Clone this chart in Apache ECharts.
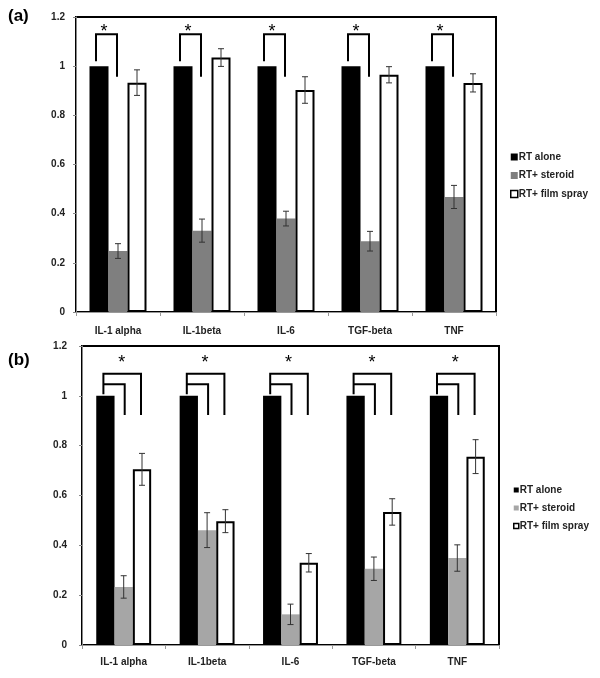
<!DOCTYPE html>
<html><head><meta charset="utf-8">
<script src="https://cdn.jsdelivr.net/npm/echarts@6/dist/echarts.min.js"></script>
<style>html,body{margin:0;padding:0;background:#fff}#c{width:600px;height:678px}</style>
</head><body><div id="c"></div>
<script>
const categories = ['IL-1 alpha', 'IL-1beta', 'IL-6', 'TGF-beta', 'TNF'];
const seriesNames = ['RT alone', 'RT+ steroid', 'RT+ film spray'];
// panel (a)
const aAlone = [1, 1, 1, 1, 1];
const aSteroid = [0.248, 0.331, 0.38, 0.288, 0.468];
const aSteroidErr = [0.03, 0.047, 0.03, 0.04, 0.047];
const aFilm = [0.933, 1.035, 0.903, 0.965, 0.932];
const aFilmErr = [0.052, 0.036, 0.054, 0.033, 0.037];
// panel (b)
const bAlone = [1, 1, 1, 1, 1];
const bSteroid = [0.233, 0.461, 0.123, 0.306, 0.349];
const bSteroidErr = [0.045, 0.07, 0.041, 0.047, 0.053];
const bFilm = [0.705, 0.497, 0.33, 0.534, 0.756];
const bFilmErr = [0.064, 0.046, 0.037, 0.053, 0.068];
const sigMarks = ['*', '*', '*', '*', '*'];

const FONT = 'Liberation Sans';
const BW_A = 19, BW_B = 18.3;
const greyA = '#7f7f7f', greyB = '#a6a6a6';

function errData(vals, errs, s) {
  return vals.map((v, i) => [i, v, errs[i], s]);
}
function errRender(bw) {
  return function (params, api) {
    const idx = api.value(0), v = api.value(1), e = api.value(2), s = api.value(3);
    const x = api.coord([idx, v])[0] + (s - 1) * bw;
    const t = api.coord([idx, v + e])[1], b = api.coord([idx, v - e])[1];
    const st = { stroke: '#333', lineWidth: 1 };
    return { type: 'group', children: [
      { type: 'line', shape: { x1: x, y1: t, x2: x, y2: b }, style: st },
      { type: 'line', shape: { x1: x - 3, y1: t, x2: x + 3, y2: t }, style: st },
      { type: 'line', shape: { x1: x - 3, y1: b, x2: x + 3, y2: b }, style: st }
    ] };
  };
}
function bracketA(params, api) {
  const idx = api.value(0);
  const c = api.coord([idx, 0])[0];
  const xl = c - BW_A - 3, xr = c - 1;
  const y = v => api.coord([idx, v])[1];
  return { type: 'group', children: [
    { type: 'polyline', shape: { points: [[xl, y(1.02)], [xl, y(1.13)], [xr, y(1.13)], [xr, y(0.957)]] },
      style: { stroke: '#000', lineWidth: 2, fill: null } },
    { type: 'text', style: { text: sigMarks[idx], x: (xl + xr) / 2 - 2.5, y: y(1.138), font: '18px ' + FONT, fill: '#000', textAlign: 'center', textVerticalAlign: 'middle' } }
  ] };
}
function bracketB(params, api) {
  const idx = api.value(0);
  const c = api.coord([idx, 0])[0];
  const xl = c - BW_B - 2, xi = c + 1, xo = c + BW_B - 1;
  const y = v => api.coord([idx, v])[1];
  const st = { stroke: '#000', lineWidth: 2, fill: null };
  return { type: 'group', children: [
    { type: 'polyline', shape: { points: [[xl, y(1.006)], [xl, y(1.089)], [xo, y(1.089)], [xo, y(0.923)]] }, style: st },
    { type: 'polyline', shape: { points: [[xl, y(1.046)], [xi, y(1.046)], [xi, y(0.923)]] }, style: st },
    { type: 'text', style: { text: sigMarks[idx], x: c - 2, y: y(1.13), font: '18px ' + FONT, fill: '#000', textAlign: 'center', textVerticalAlign: 'middle' } }
  ] };
}

const axisLabel = { fontFamily: FONT, fontWeight: 'bold', fontSize: 10, color: '#222' };
function xAxis(gi, margin) {
  return { type: 'category', gridIndex: gi, data: categories,
    axisLine: { lineStyle: { color: '#999', width: 1 } },
    axisTick: { show: true, length: 4, lineStyle: { color: '#999' } },
    axisLabel: Object.assign({ margin: margin }, axisLabel) };
}
function yAxis(gi, margin) {
  return { type: 'value', gridIndex: gi, min: 0, max: 1.2, interval: 0.2,
    splitLine: { show: false },
    axisLine: { show: true, lineStyle: { color: '#888', width: 1 } },
    axisTick: { show: true, length: 3, lineStyle: { color: '#888' } },
    axisLabel: Object.assign({ margin: margin }, axisLabel) };
}
function bars(gi, bw, grey, alone, ster, film) {
  return [
    { name: seriesNames[0], type: 'bar', xAxisIndex: gi, yAxisIndex: gi, data: alone, barWidth: bw, barGap: '0%', itemStyle: { color: '#000' } },
    { name: seriesNames[1], type: 'bar', xAxisIndex: gi, yAxisIndex: gi, data: ster, barWidth: bw, barGap: '0%', itemStyle: { color: grey } },
    { name: seriesNames[2], type: 'bar', xAxisIndex: gi, yAxisIndex: gi, data: film, barWidth: bw, barGap: '0%', itemStyle: { color: '#fff', borderColor: '#000', borderWidth: 2 } }
  ];
}
function legend(left, top, grey, gap, iw) {
  return { orient: 'vertical', left: left, top: top, itemWidth: iw, itemHeight: iw, itemGap: gap,
    textStyle: { fontFamily: FONT, fontWeight: 'bold', fontSize: 10, color: '#222', padding: [0, 0, 0, -4], lineHeight: 12 },
    selectedMode: false,
    data: [
      { name: seriesNames[0], icon: 'rect', itemStyle: { color: '#000', borderWidth: 0 } },
      { name: seriesNames[1], icon: 'rect', itemStyle: { color: grey, borderWidth: 0 } },
      { name: seriesNames[2], icon: 'rect', itemStyle: { color: '#fff', borderColor: '#000', borderWidth: 1.5 } }
    ] };
}

const chart = echarts.init(document.getElementById('c'), null, { renderer: 'canvas' });
chart.setOption({
  animation: false,
  backgroundColor: '#fff',
  title: [
    { text: '(a)', left: 3, top: 3, textStyle: { fontFamily: FONT, fontWeight: 'bold', fontSize: 17, color: '#000' } },
    { text: '(b)', left: 3, top: 347, textStyle: { fontFamily: FONT, fontWeight: 'bold', fontSize: 17, color: '#000' } }
  ],
  legend: [legend(505, 146, greyA, 6.5, 7), legend(508, 479, greyB, 6, 5)],
  grid: [
    { left: 76, top: 17, width: 420, height: 295, show: true, borderColor: '#000', borderWidth: 2, backgroundColor: 'transparent' },
    { left: 82, top: 346, width: 417, height: 299, show: true, borderColor: '#000', borderWidth: 2, backgroundColor: 'transparent' }
  ],
  xAxis: [xAxis(0, 14), xAxis(1, 12)],
  yAxis: [yAxis(0, 11), yAxis(1, 15)],
  series: [].concat(
    bars(0, BW_A, greyA, aAlone, aSteroid, aFilm),
    bars(1, BW_B, greyB, bAlone, bSteroid, bFilm),
    [
      { type: 'custom', xAxisIndex: 0, yAxisIndex: 0, z: 5, renderItem: errRender(BW_A), data: errData(aSteroid, aSteroidErr, 1).concat(errData(aFilm, aFilmErr, 2)) },
      { type: 'custom', xAxisIndex: 1, yAxisIndex: 1, z: 5, renderItem: errRender(BW_B), data: errData(bSteroid, bSteroidErr, 1).concat(errData(bFilm, bFilmErr, 2)) },
      { type: 'custom', xAxisIndex: 0, yAxisIndex: 0, z: 5, renderItem: bracketA, data: categories.map((c, i) => [i, 1]) },
      { type: 'custom', xAxisIndex: 1, yAxisIndex: 1, z: 5, renderItem: bracketB, data: categories.map((c, i) => [i, 1]) }
    ]
  )
});
</script></body></html>
